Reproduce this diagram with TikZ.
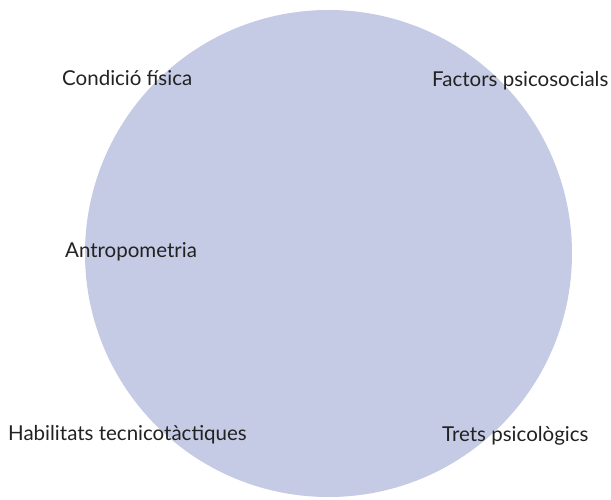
\documentclass[tikz,border=0pt]{standalone}
\usepackage{fontspec}
\setmainfont{Lato}
\definecolor{cercle}{HTML}{C5CAE5}
\definecolor{text}{HTML}{222222}
\begin{document}
\begin{tikzpicture}[x=1pt, y=1pt, font=\fontsize{20.5}{24}\selectfont,
	etiqueta/.style={text=text, anchor=base west, inner sep=0pt}]
	\useasboundingbox (0,0) rectangle (611,499);
	\fill[cercle] (328.5,245.5) circle (243.5);
	\node[etiqueta] (condicio) at (62,413) {Condició física};
	\node[etiqueta] (factors) at (432,412) {Factors psicosocials};
	\node[etiqueta] (antropo) at (65,241) {Antropometria};
	\node[etiqueta] (habilitats) at (8,59) {Habilitats tecnicotàctiques};
	\node[etiqueta] (trets) at (442,58) {Trets psicològics};
\end{tikzpicture}
\end{document}
